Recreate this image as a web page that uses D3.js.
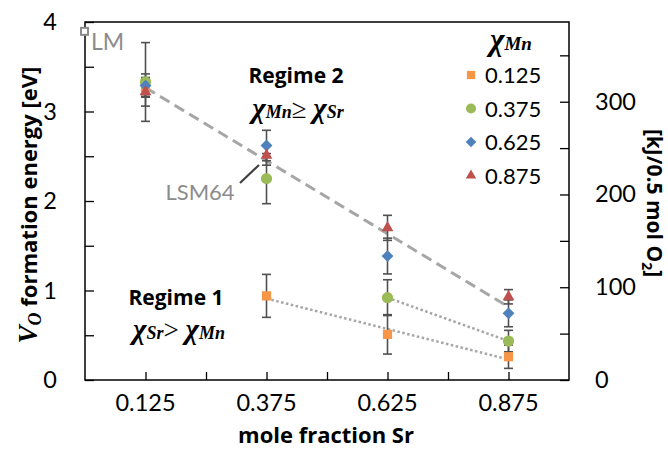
<!DOCTYPE html>
<html>
<head>
<meta charset="utf-8">
<script src="https://cdn.jsdelivr.net/npm/d3@7"></script>
<style>
  html, body { margin: 0; padding: 0; background: #fff; }
  svg { display: block; }
  text { font-family: Lato, "Open Sans", sans-serif; }
  .bold { font-family: "Open Sans", Lato, sans-serif; font-weight: bold; }
  .math { font-family: "Liberation Serif", "DejaVu Serif", serif; font-style: italic; font-weight: bold; }
</style>
</head>
<body>
<svg id="chart" width="668" height="450"></svg>
<script>
// Sr mole fraction of each composition
const srFraction = [0.125, 0.375, 0.625, 0.875];
// Mn mole fraction of each series
const mnFraction = [0.125, 0.375, 0.625, 0.875];
const mnLabels = ["0.125", "0.375", "0.625", "0.875"];
// Oxygen vacancy formation energies [eV], one array per Mn fraction
const energyMn125 = [3.27, 0.94, 0.51, 0.26];
const energyMn375 = [3.33, 2.25, 0.92, 0.435];
const energyMn625 = [3.29, 2.62, 1.385, 0.745];
const energyMn875 = [3.22, 2.51, 1.70, 0.93];
// Error bar half-widths [eV]
const errMn125 = [0.10, 0.24, 0.22, 0.13];
const errMn375 = [0.44, 0.28, 0.20, 0.12];
const errMn625 = [0.13, 0.17, 0.20, 0.15];
const errMn875 = [0.16, 0.11, 0.14, 0.08];
// LaMnO3 reference point
const lmSr = 0;
const lmEnergy = 3.89;
// axis tick labels
const xTickLabels = ["0.125", "0.375", "0.625", "0.875"];
const yTicksEV = [0, 1, 2, 3, 4];
const yTicksKJ = [0, 100, 200, 300];
const colors = ["#F79646", "#9BBB59", "#4F81BD", "#C0504D"];
const EV_TO_KJ = 96.485;

const energies = [energyMn125, energyMn375, energyMn625, energyMn875];
const errors = [errMn125, errMn375, errMn625, errMn875];

const svg = d3.select("#chart");
const L = 85, R = 569, T = 22, B = 380;
const x = d3.scaleLinear().domain([0, 1]).range([L, R]);
const y = d3.scaleLinear().domain([0, 4]).range([B, T]);
const yR = d3.scaleLinear().domain([0, 4 * EV_TO_KJ]).range([B, T]);

// flatten points
const points = [];
mnFraction.forEach((mn, s) => {
  srFraction.forEach((sr, i) => {
    points.push({ s, mn, sr, e: energies[s][i], err: errors[s][i] });
  });
});

// linear least-squares fit
function fit(pts) {
  const mx = d3.mean(pts, p => p.sr), my = d3.mean(pts, p => p.e);
  const sxy = d3.sum(pts, p => (p.sr - mx) * (p.e - my));
  const sxx = d3.sum(pts, p => (p.sr - mx) ** 2);
  const b = sxy / sxx;
  return v => my + b * (v - mx);
}

// frame
svg.append("rect").attr("x", L).attr("y", T).attr("width", R - L).attr("height", B - T)
  .attr("fill", "none").attr("stroke", "#000").attr("stroke-width", 1.5);

// bottom axis: ticks every 0.125 pointing inwards
const xAxis = d3.axisBottom(x).tickValues(d3.range(1, 8).map(k => k * 0.125))
  .tickSizeInner(-8).tickSizeOuter(0).tickFormat(() => "");
const gx = svg.append("g").attr("transform", `translate(0,${B})`).call(xAxis);
gx.select(".domain").remove();
gx.selectAll("line").attr("stroke", "#000").attr("stroke-width", 1.3);
svg.append("g").selectAll("text").data(xTickLabels).join("text")
  .attr("x", d => x(+d)).attr("y", 411).attr("text-anchor", "middle")
  .attr("font-size", 23.5).attr("fill", "#000").text(d => d);

// left axis: ticks every 0.5
const yAxis = d3.axisLeft(y).tickValues(d3.range(0, 9).map(k => k * 0.5))
  .tickSizeInner(-9).tickSizeOuter(0).tickFormat(() => "");
const gy = svg.append("g").attr("transform", `translate(${L},0)`).call(yAxis);
gy.select(".domain").remove();
gy.selectAll("line").attr("stroke", "#000").attr("stroke-width", 1.3);
svg.append("g").selectAll("text").data(yTicksEV).join("text")
  .attr("x", 57).attr("y", d => y(d) + 8).attr("text-anchor", "end")
  .attr("font-size", 23.5).attr("fill", "#000").text(d => d);

// right axis in kJ per half mole O2
const yAxisR = d3.axisRight(yR).tickValues(d3.range(0, 8).map(k => k * 50))
  .tickSizeInner(-9).tickSizeOuter(0).tickFormat(() => "");
const gyr = svg.append("g").attr("transform", `translate(${R},0)`).call(yAxisR);
gyr.select(".domain").remove();
gyr.selectAll("line").attr("stroke", "#000").attr("stroke-width", 1.3);
svg.append("g").selectAll("text").data(yTicksKJ).join("text")
  .attr("x", 595).attr("y", d => yR(d) + 8).attr("text-anchor", "start")
  .attr("font-size", 23.5).attr("fill", "#000").text(d => d);

// regime 2 trend (Mn >= Sr)
const reg2 = points.filter(p => p.mn >= p.sr);
const f2 = fit(reg2);
const ext2 = d3.extent(reg2, p => p.sr);
svg.append("line")
  .attr("x1", x(ext2[0])).attr("y1", y(f2(ext2[0])))
  .attr("x2", x(ext2[1])).attr("y2", y(f2(ext2[1])))
  .attr("stroke", "#A6A6A6").attr("stroke-width", 3).attr("stroke-dasharray", "11,6");

// regime 1 trends per Mn series (Sr > Mn)
mnFraction.forEach((mn, s) => {
  const pts = points.filter(p => p.s === s && p.sr > p.mn);
  if (pts.length < 2) return;
  const f = fit(pts);
  const ext = d3.extent(pts, p => p.sr);
  svg.append("line")
    .attr("x1", x(ext[0])).attr("y1", y(f(ext[0])))
    .attr("x2", x(ext[1])).attr("y2", y(f(ext[1])))
    .attr("stroke", "#A6A6A6").attr("stroke-width", 2.5).attr("stroke-dasharray", "2.5,2.5");
});

// error bars
const eb = svg.append("g").attr("stroke", "#505050").attr("stroke-width", 1.6);
points.forEach(p => {
  const cx = x(p.sr), y1 = y(p.e + p.err), y2 = y(p.e - p.err);
  eb.append("line").attr("x1", cx).attr("x2", cx).attr("y1", y1).attr("y2", y2);
  eb.append("line").attr("x1", cx - 4.5).attr("x2", cx + 4.5).attr("y1", y1).attr("y2", y1);
  eb.append("line").attr("x1", cx - 4.5).attr("x2", cx + 4.5).attr("y1", y2).attr("y2", y2);
});

// marker shapes per series
const shapes = [
  { type: d3.symbolSquare, size: 85, rot: 0 },
  { type: d3.symbolCircle, size: 100, rot: 0 },
  { type: d3.symbolSquare, size: 70, rot: 45 },
  { type: d3.symbolTriangle, size: 60, rot: 0 }
];
function marker(g, s, cx, cy, scale = 1) {
  const sh = shapes[s];
  g.append("path")
    .attr("d", d3.symbol().type(sh.type).size(sh.size * scale)())
    .attr("transform", `translate(${cx},${cy}) rotate(${sh.rot})`)
    .attr("fill", colors[s]);
}
const mk = svg.append("g");
points.forEach(p => marker(mk, p.s, x(p.sr), y(p.e)));

// LM reference marker
svg.append("rect")
  .attr("x", x(lmSr) - 4).attr("y", y(lmEnergy) - 4).attr("width", 7).attr("height", 7)
  .attr("fill", "#fff").attr("stroke", "#8C8C8C").attr("stroke-width", 2);
svg.append("text").attr("x", 91).attr("y", 50).attr("font-size", 23).attr("fill", "#8C8C8C").text("LM");

// LSM64 callout
svg.append("line").attr("x1", 240).attr("y1", 183).attr("x2", 259).attr("y2", 165)
  .attr("stroke", "#404040").attr("stroke-width", 2.2);
svg.append("text").attr("x", 200).attr("y", 200).attr("text-anchor", "middle")
  .attr("font-size", 22).attr("fill", "#8C8C8C").text("LSM64");

// math label helper: large chi with a smaller italic subscript
function chi(sel, sub, big, small) {
  sel.append("tspan").attr("font-size", big).text("χ");
  sel.append("tspan").attr("font-size", small).text(sub);
}

// regime annotations
svg.append("text").attr("class", "bold").attr("x", 296).attr("y", 83).attr("text-anchor", "middle")
  .attr("font-size", 21).attr("fill", "#000").text("Regime 2");
const r2 = svg.append("text").attr("class", "math").attr("x", 298).attr("y", 118)
  .attr("text-anchor", "middle").attr("fill", "#000");
chi(r2, "Mn", 29, 18);
r2.append("tspan").attr("font-size", 27).attr("font-style", "normal").attr("font-weight", "normal").text("≥ ");
chi(r2, "Sr", 29, 18);

svg.append("text").attr("class", "bold").attr("x", 176).attr("y", 305).attr("text-anchor", "middle")
  .attr("font-size", 21).attr("fill", "#000").text("Regime 1");
const r1 = svg.append("text").attr("class", "math").attr("x", 179).attr("y", 339)
  .attr("text-anchor", "middle").attr("fill", "#000");
chi(r1, "Sr", 29, 18);
r1.append("tspan").attr("font-size", 27).attr("font-style", "normal").attr("font-weight", "normal").text("> ");
chi(r1, "Mn", 29, 18);

// legend
const lg = svg.append("g");
const lt = lg.append("text").attr("class", "math").attr("x", 511).attr("y", 50)
  .attr("text-anchor", "middle").attr("fill", "#000");
chi(lt, "Mn", 31, 19);
mnLabels.forEach((lab, s) => {
  const cy = 75 + s * 33.5;
  marker(lg, s, 471, cy, 0.8);
  lg.append("text").attr("x", 485).attr("y", cy + 8).attr("font-size", 22).attr("fill", "#000").text(lab);
});

// axis titles
svg.append("text").attr("class", "bold").attr("x", 326).attr("y", 443).attr("text-anchor", "middle")
  .attr("font-size", 22).attr("fill", "#000").text("mole fraction Sr");

const yt = svg.append("text").attr("class", "bold").attr("transform", "translate(37,205) rotate(-90)")
  .attr("text-anchor", "middle").attr("font-size", 22).attr("fill", "#000");
yt.append("tspan").attr("class", "math").attr("font-size", 27).text("V");
yt.append("tspan").attr("class", "math").attr("font-size", 18).attr("dy", 4).text("O");
yt.append("tspan").attr("dy", -4).text(" formation energy [eV]");

const yt2 = svg.append("text").attr("class", "bold").attr("transform", "translate(647,203) rotate(90)")
  .attr("text-anchor", "middle").attr("font-size", 21).attr("fill", "#000");
yt2.append("tspan").text("[kJ/0.5 mol O");
yt2.append("tspan").attr("font-size", 14).attr("dy", 5).text("2");
yt2.append("tspan").attr("dy", -5).text("]");
</script>
</body>
</html>
